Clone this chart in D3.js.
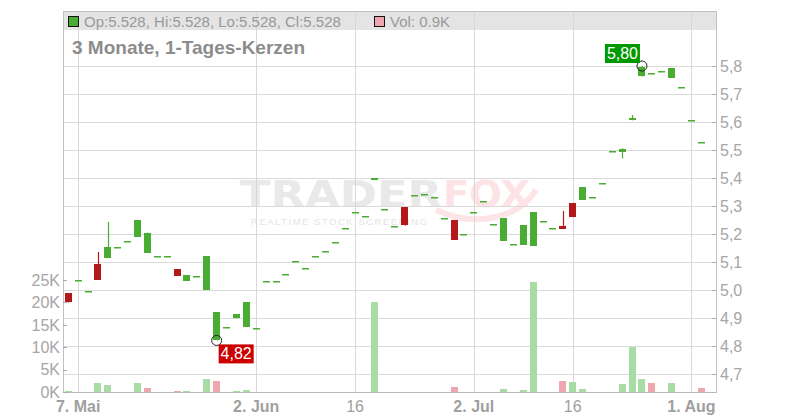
<!DOCTYPE html>
<html><head><meta charset="utf-8">
<script src="https://cdn.jsdelivr.net/npm/d3@7/dist/d3.min.js"></script>
<style>
html,body{margin:0;padding:0;background:#fff;}
svg{display:block;font-family:"Liberation Sans",Arial,sans-serif;}
</style></head>
<body><svg id="chart" width="800" height="420"></svg>
<script>
const dates = ["2025-05-06","2025-05-07","2025-05-08","2025-05-09",
"2025-05-12","2025-05-13","2025-05-14","2025-05-15","2025-05-16",
"2025-05-19","2025-05-20","2025-05-21","2025-05-22","2025-05-23",
"2025-05-26","2025-05-27","2025-05-28","2025-05-29","2025-05-30",
"2025-06-02","2025-06-03","2025-06-04","2025-06-05","2025-06-06",
"2025-06-09","2025-06-10","2025-06-11","2025-06-12","2025-06-13",
"2025-06-16","2025-06-17","2025-06-18","2025-06-19","2025-06-20",
"2025-06-23","2025-06-24","2025-06-25","2025-06-26","2025-06-27",
"2025-06-30","2025-07-01","2025-07-02","2025-07-03","2025-07-04",
"2025-07-07","2025-07-08","2025-07-09","2025-07-10","2025-07-11",
"2025-07-14","2025-07-15","2025-07-16","2025-07-17","2025-07-18",
"2025-07-21","2025-07-22","2025-07-23","2025-07-24","2025-07-25",
"2025-07-28","2025-07-29","2025-07-30","2025-07-31","2025-08-01",
"2025-08-04"];
const opens = [4.988,5.036,4.995,5.093,5.115,5.152,5.174,5.190,5.133,5.120,5.120,5.075,5.033,5.049,5.001,4.820,4.868,4.898,4.869,4.864,5.032,5.032,5.056,5.102,5.078,5.120,5.139,5.170,5.220,5.278,5.263,5.393,5.288,5.227,5.296,5.338,5.342,5.331,5.256,5.250,5.199,5.278,5.317,5.235,5.176,5.163,5.162,5.158,5.245,5.220,5.229,5.311,5.323,5.331,5.381,5.495,5.492,5.606,5.762,5.775,5.781,5.758,5.724,5.607,5.528];
const highs = [4.988,5.036,4.995,5.136,5.243,5.152,5.174,5.250,5.205,5.120,5.120,5.075,5.054,5.049,5.121,4.921,4.868,4.914,4.957,4.864,5.032,5.032,5.056,5.102,5.078,5.120,5.139,5.170,5.220,5.278,5.263,5.399,5.288,5.227,5.296,5.338,5.342,5.331,5.256,5.250,5.199,5.278,5.317,5.235,5.257,5.163,5.232,5.279,5.245,5.220,5.282,5.311,5.368,5.331,5.381,5.495,5.506,5.625,5.800,5.775,5.781,5.793,5.724,5.607,5.528];
const lows = [4.955,5.036,4.995,5.037,5.115,5.152,5.174,5.190,5.133,5.120,5.120,5.051,5.033,5.049,5.001,4.820,4.868,4.898,4.869,4.864,5.032,5.032,5.056,5.102,5.078,5.120,5.139,5.170,5.220,5.278,5.263,5.393,5.288,5.227,5.230,5.338,5.342,5.331,5.256,5.180,5.199,5.278,5.317,5.235,5.176,5.163,5.162,5.158,5.245,5.220,5.219,5.262,5.323,5.331,5.381,5.495,5.470,5.606,5.762,5.775,5.781,5.758,5.724,5.607,5.528];
const closes = [4.955,5.036,4.995,5.037,5.154,5.152,5.174,5.250,5.205,5.120,5.120,5.051,5.054,5.049,5.121,4.921,4.868,4.914,4.957,4.864,5.032,5.032,5.056,5.102,5.078,5.120,5.139,5.170,5.220,5.278,5.263,5.399,5.288,5.227,5.230,5.338,5.342,5.331,5.256,5.180,5.199,5.278,5.317,5.235,5.257,5.163,5.232,5.279,5.245,5.220,5.219,5.262,5.368,5.331,5.381,5.495,5.503,5.614,5.795,5.775,5.781,5.793,5.724,5.607,5.528];
const volumesK = [0.2,0,0,2.0,1.6,0,0,2.0,0.9,0,0,0.2,0.2,0,2.9,2.4,0,0.2,0.4,0,0,0,0,0,0,0,0,0,0,0,0,20.1,0,0,0,0,0,0,0,1.1,0,0,0,0,0.7,0,0.5,24.5,0,0,2.4,2.2,0.7,0,0,0,1.8,10.0,2.9,2.0,0,2.0,0,0,0.9];
const priceTicks = [4.7,4.8,4.9,5.0,5.1,5.2,5.3,5.4,5.5,5.6,5.7,5.8];
const volumeTicks = [0,5,10,15,20,25];
const xTickDates = ["2025-05-07","2025-06-02","2025-06-16","2025-07-02","2025-07-16","2025-08-01"];
const xTickLabels = ["7. Mai","2. Jun","16","2. Jul","16","1. Aug"];
const titleText = "3 Monate, 1-Tages-Kerzen";

const svg = d3.select("#chart");
const L = 63, R = 716, T = 11, B = 392;
const GREEN = "#4aad33", RED = "#b3191b", VGREEN = "#a9dca5", VRED = "#efa7af";

const x = d3.scalePoint().domain(dates).range([68.3, 701.3]);
const y = d3.scaleLinear().domain([4.7, 5.8]).range([374, 66]);
const yv = d3.scaleLinear().domain([0, 25]).range([B, 280]);
const fmtP = d => d3.format(".1f")(d).replace(".", ",");

// legend bar
svg.append("rect").attr("x", L).attr("y", T).attr("width", R - L).attr("height", 19).attr("fill", "#e4e4e4");

// watermark
const wm = svg.append("g").attr("pointer-events", "none");
wm.append("path").attr("d", "M436,210 C470,226 515,222 536,190").attr("fill", "none")
  .attr("stroke", "#fde5e7").attr("stroke-width", 6);
wm.append("text").attr("x", 240).attr("y", 206.5).attr("font-family", "DejaVu Sans").attr("font-weight", "bold")
  .attr("font-size", 38).attr("textLength", 202).attr("lengthAdjust", "spacingAndGlyphs")
  .attr("fill", "#e9e9e9").text("TRADER");
wm.append("text").attr("x", 443).attr("y", 206.5).attr("font-family", "DejaVu Sans").attr("font-weight", "bold")
  .attr("font-size", 38).attr("textLength", 87).attr("lengthAdjust", "spacingAndGlyphs")
  .attr("fill", "#fde3e5").text("FOX");
wm.append("text").attr("x", 251).attr("y", 224.5).attr("font-size", 9.5).attr("textLength", 176)
  .attr("lengthAdjust", "spacing").attr("fill", "#e4e4e4").text("REALTIME STOCK SCREENING");

// gridlines
svg.append("g").selectAll("line").data(priceTicks).join("line")
  .attr("x1", L).attr("x2", R).attr("y1", d => Math.round(y(d)) + 0.5).attr("y2", d => Math.round(y(d)) + 0.5)
  .attr("stroke", "#dadada");
svg.append("g").selectAll("line").data(xTickDates).join("line")
  .attr("x1", d => Math.round(x(d)) + 0.5).attr("x2", d => Math.round(x(d)) + 0.5)
  .attr("y1", T).attr("y2", B).attr("stroke", "#d8d8d8");

// frame
svg.append("path").attr("d", `M${L + 0.5},${B}V${T + 0.5}H${R + 0.5}V${B}`).attr("fill", "none").attr("stroke", "#c0c0c0");
svg.append("line").attr("x1", L).attr("x2", R + 1).attr("y1", B + 0.5).attr("y2", B + 0.5).attr("stroke", "#b8b8b8");

// right price axis
const ya = svg.append("g");
ya.selectAll("line").data(priceTicks).join("line")
  .attr("x1", R - 4).attr("x2", R).attr("y1", d => Math.round(y(d)) + 0.5).attr("y2", d => Math.round(y(d)) + 0.5)
  .attr("stroke", "#aaa");
ya.selectAll("text").data(priceTicks).join("text")
  .attr("x", R + 4).attr("y", d => y(d)).attr("dy", "0.36em").attr("font-size", 16).attr("fill", "#a6a6a6")
  .text(fmtP);

// left volume axis
const va = svg.append("g");
va.selectAll("line").data(volumeTicks).join("line")
  .attr("x1", L).attr("x2", L + 4).attr("y1", d => Math.round(yv(d)) + 0.5).attr("y2", d => Math.round(yv(d)) + 0.5)
  .attr("stroke", "#aaa");
va.selectAll("text").data(volumeTicks).join("text")
  .attr("x", L - 3).attr("y", d => yv(d)).attr("dy", "0.36em").attr("text-anchor", "end")
  .attr("font-size", 16).attr("fill", "#a6a6a6").text(d => d + "K");

// x axis labels
svg.append("g").selectAll("text").data(xTickDates).join("text")
  .attr("x", d => x(d)).attr("y", 412).attr("text-anchor", "middle").attr("font-size", 16)
  .attr("font-weight", (d, i) => xTickLabels[i].length > 2 ? "bold" : "normal")
  .attr("fill", "#a0a0a0").text((d, i) => xTickLabels[i]);

// volume bars
const bw = 7;
const vdata = dates.map((d, i) => ({d, v: volumesK[i], up: i === 0 || closes[i] >= closes[i - 1]})).filter(e => e.v > 0);
svg.append("g").selectAll("rect").data(vdata).join("rect")
  .attr("x", e => Math.round(x(e.d) - bw / 2)).attr("width", bw)
  .attr("y", e => Math.min(B - 1, Math.round(yv(e.v)))).attr("height", e => Math.max(1, B - Math.round(yv(e.v))))
  .attr("fill", e => e.up ? VGREEN : VRED);

// candles
const cdata = dates.map((d, i) => ({d, o: opens[i], h: highs[i], l: lows[i], c: closes[i]}));
const cg = svg.append("g").selectAll("g").data(cdata).join("g");
cg.append("line")
  .attr("x1", e => Math.round(x(e.d)) + 0.5).attr("x2", e => Math.round(x(e.d)) + 0.5)
  .attr("y1", e => y(e.h)).attr("y2", e => y(e.l))
  .attr("stroke", e => e.c >= e.o ? GREEN : RED).attr("stroke-width", 1.2);
cg.append("rect")
  .attr("x", e => Math.round(x(e.d) - bw / 2)).attr("width", bw)
  .attr("y", e => Math.round(y(Math.max(e.o, e.c))))
  .attr("height", e => Math.max(1.5, Math.round(y(Math.min(e.o, e.c)) - y(Math.max(e.o, e.c)))))
  .attr("fill", e => e.c >= e.o ? GREEN : RED);

// min / max annotations
const iMin = d3.minIndex(lows), iMax = d3.maxIndex(highs);
const lowPt = [x(dates[iMin]), y(lows[iMin])];
const highPt = [x(dates[iMax]), y(highs[iMax])];
const ann = svg.append("g");
ann.append("circle").attr("cx", lowPt[0]).attr("cy", lowPt[1]).attr("r", 5).attr("fill", "none").attr("stroke", "#222");
ann.append("rect").attr("x", lowPt[0] + 2).attr("y", lowPt[1] + 4).attr("width", 35).attr("height", 19).attr("fill", "#cc0000");
ann.append("text").attr("x", lowPt[0] + 19.5).attr("y", lowPt[1] + 19).attr("text-anchor", "middle").attr("font-size", 16)
  .attr("fill", "#fff").text(d3.format(".2f")(lows[iMin]).replace(".", ","));
ann.append("circle").attr("cx", highPt[0]).attr("cy", highPt[1]).attr("r", 5).attr("fill", "none").attr("stroke", "#222");
ann.append("rect").attr("x", highPt[0] - 37).attr("y", highPt[1] - 22).attr("width", 35).attr("height", 19).attr("fill", "#009900");
ann.append("text").attr("x", highPt[0] - 19.5).attr("y", highPt[1] - 7).attr("text-anchor", "middle").attr("font-size", 16)
  .attr("fill", "#fff").text(d3.format(".2f")(highs[iMax]).replace(".", ","));

// legend
const n = dates.length - 1;
const lg = svg.append("g");
lg.append("rect").attr("x", 68.5).attr("y", 16.5).attr("width", 10).attr("height", 10).attr("fill", GREEN).attr("stroke", "#111");
lg.append("text").attr("x", 84).attr("y", 26.5).attr("font-size", 15).attr("fill", "#999")
  .text(`Op:${d3.format(".3f")(opens[n])}, Hi:${d3.format(".3f")(highs[n])}, Lo:${d3.format(".3f")(lows[n])}, Cl:${d3.format(".3f")(closes[n])}`);
lg.append("rect").attr("x", 374.5).attr("y", 16.5).attr("width", 10).attr("height", 10).attr("fill", VRED).attr("stroke", "#111");
lg.append("text").attr("x", 390).attr("y", 26.5).attr("font-size", 15).attr("fill", "#999")
  .text(`Vol: ${d3.format(".1f")(volumesK[n])}K`);

// title
svg.append("text").attr("x", 72).attr("y", 54).attr("font-size", 19).attr("font-weight", "bold").attr("fill", "#8c8c8c").text(titleText);
</script></body></html>
